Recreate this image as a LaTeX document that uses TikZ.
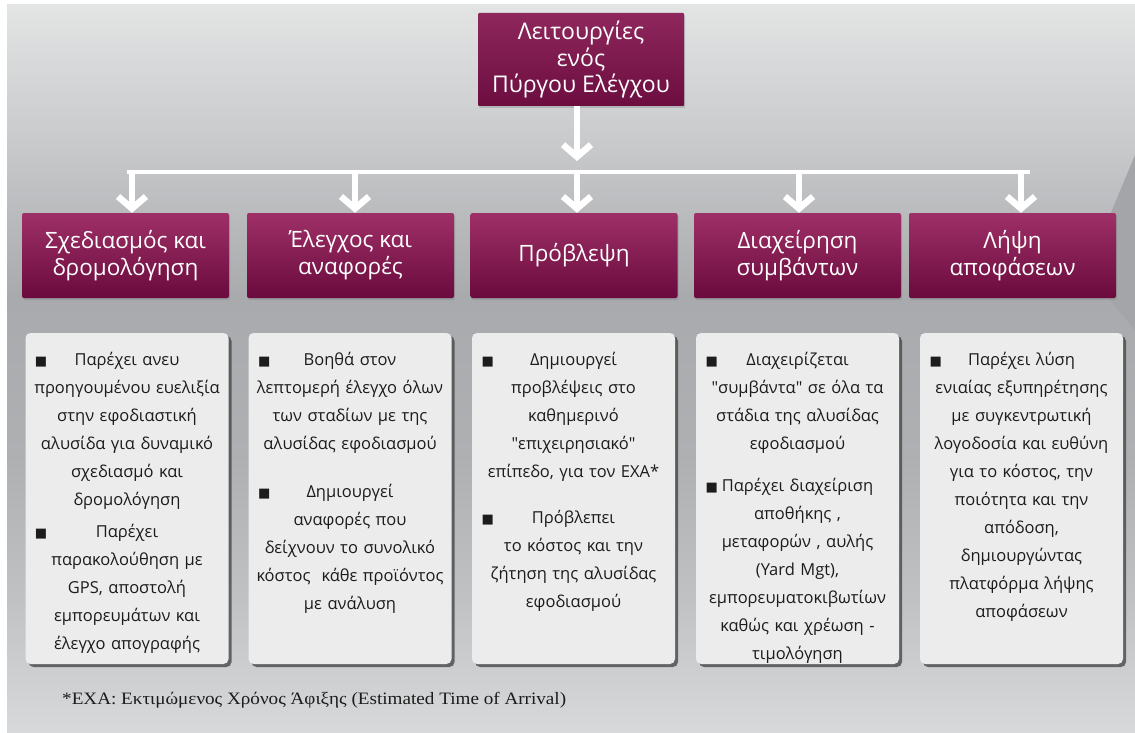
\documentclass[tikz,border=0pt]{standalone}
\usepackage{fontspec}
\setmainfont{Open Sans}
\newfontfamily\symf{DejaVu Sans}
\newfontfamily\serf[FakeStretch=1.1]{Liberation Serif}
\usetikzlibrary{arrows.meta,shadows}
\definecolor{hdtop}{HTML}{9E3067}
\definecolor{hdbot}{HTML}{6A0A3D}
\definecolor{tptop}{HTML}{8E275C}
\definecolor{tpbot}{HTML}{6C0D40}
\definecolor{boxfill}{HTML}{ECECEC}
\definecolor{txt}{HTML}{1C1C1C}
\definecolor{bgA}{HTML}{E3E4E4}
\definecolor{bgB}{HTML}{C6C8CA}
\definecolor{bgC}{HTML}{A8AAAD}
\definecolor{bgD}{HTML}{AEB0B2}
\definecolor{bgE}{HTML}{C0C2C4}
\definecolor{bgF}{HTML}{D8D9DA}
\definecolor{wedge}{HTML}{A3A5A8}
\pgfdeclareverticalshading{bgsh}{100bp}{color(0bp)=(bgF); color(25bp)=(bgF); color(34bp)=(bgE); color(44bp)=(bgD); color(55bp)=(bgC); color(65bp)=(bgB); color(75bp)=(bgA); color(100bp)=(bgA)}
\newcommand\bl[1]{\makebox[184pt]{\rlap{\symf\fontsize{13}{13}\selectfont ■}\hfill#1\hfill}}
\newcommand\qq{\textquotedbl}
\tikzset{
  hdr/.style={minimum width=207pt, minimum height=85pt, rounded corners=2pt,
    top color=hdtop, bottom color=hdbot, text=white, align=center, inner sep=0pt,
    font=\fontsize{22.5}{27}\selectfont,
    drop shadow={shadow xshift=1pt, shadow yshift=-2pt, opacity=0.35}},
  topbox/.style={minimum width=206pt, minimum height=93pt, rounded corners=1pt,
    top color=tptop, bottom color=tpbot, text=white, align=center, inner sep=0pt,
    font=\fontsize{23}{26.5}\selectfont,
    drop shadow={shadow xshift=1pt, shadow yshift=-2pt, opacity=0.35}},
  cbox/.style={minimum width=203pt, minimum height=331pt, rounded corners=5pt,
    fill=boxfill, inner sep=0pt,
    drop shadow={shadow xshift=3pt, shadow yshift=-3pt, opacity=0.75, fill=black!75}},
  ctext/.style={anchor=north, inner sep=0pt, text width=215pt, align=center,
    text=txt, font=\fontsize{16.5}{28}\selectfont},
  arr/.style={draw=white, line width=5.5pt, -{Straight Barb[length=12pt, width=28pt, line width=6.5pt]}},
  barline/.style={draw=white, line width=4.5pt},
  foot/.style={anchor=west, inner sep=0pt, text=txt, font=\serf\fontsize{17.4}{20}\selectfont}
}
\begin{document}
\begin{tikzpicture}[x=1pt, y=-1pt]
\useasboundingbox (0,0) rectangle (1135,733);
\fill[white] (0,0) rectangle (1135,733);
\shade[shading=bgsh] (7,5) rectangle (1135,733);
\fill[wedge] (1135,155) -- (1110,215) -- (1110,300) -- (1135,330) -- cycle;

% top box
\node[topbox] (top) at (581,59.5) {Λειτουργίες\\ενός\\Πύργου Ελέγχου};

% bar coordinates
\coordinate (ttip) at (577,161);
\coordinate (bl) at (127,172);
\coordinate (br) at (1030,172);
\coordinate (d1) at (132,172);
\coordinate (d2) at (355,172);
\coordinate (d3) at (577,172);
\coordinate (d4) at (799,172);
\coordinate (d5) at (1021,172);

% header boxes
\node[hdr] (h1) at (125.5,255.5) {Σχεδιασμός και\\δρομολόγηση};
\node[hdr] (h2) at (350.5,255.5) {Έλεγχος και\\αναφορές};
\node[hdr] (h3) at (574,255.5) {Πρόβλεψη};
\node[hdr] (h4) at (797.5,255.5) {Διαχείρηση\\συμβάντων};
\node[hdr] (h5) at (1012.5,255.5) {Λήψη\\αποφάσεων};

% connectors
\draw[arr] (top.south -| ttip) -- (ttip);
\draw[barline] (bl) -- (br);
\foreach \i in {1,...,5} {
  \draw[arr] (d\i) -- (d\i |- h\i.north);
}

% content boxes
\node[cbox] (c1) at (127,498.5) {};
\node[cbox] (c2) at (350,498.5) {};
\node[cbox] (c3) at (573.5,498.5) {};
\node[cbox] (c4) at (797.5,498.5) {};
\node[cbox] (c5) at (1021.5,498.5) {};

\node[ctext] (t1) at ([yshift=-19pt]c1.north) {\bl{Παρέχει ανευ}\\προηγουμένου ευελιξία\\στην εφοδιαστική\\αλυσίδα για δυναμικό\\σχεδιασμό και\\δρομολόγηση\\[4pt]\bl{Παρέχει}\\παρακολούθηση με\\GPS, αποστολή\\εμπορευμάτων και\\έλεγχο απογραφής};
\node[ctext] (t2) at ([yshift=-19pt]c2.north) {\bl{Βοηθά στον}\\λεπτομερή έλεγχο όλων\\των σταδίων με της\\αλυσίδας εφοδιασμού\\[20pt]\bl{Δημιουργεί}\\αναφορές που\\δείχνουν το συνολικό\\κόστος\ \ κάθε προϊόντος\\με ανάλυση};
\node[ctext] (t3) at ([yshift=-19pt]c3.north) {\bl{Δημιουργεί}\\προβλέψεις στο\\καθημερινό\\\qq επιχειρησιακό\qq\\επίπεδο, για τον ΕΧΑ*\\[18pt]\bl{Πρόβλεπει}\\το κόστος και την\\ζήτηση της αλυσίδας\\εφοδιασμού};
\node[ctext] (t4) at ([yshift=-19pt]c4.north) {\bl{Διαχειρίζεται}\\\qq συμβάντα\qq{} σε όλα τα\\στάδια της αλυσίδας\\εφοδιασμού\\[14pt]\bl{Παρέχει διαχείριση}\\αποθήκης ,\\μεταφορών , αυλής\\(Yard Mgt),\\εμπορευματοκιβωτίων\\καθώς και χρέωση -\\τιμολόγηση};
\node[ctext] (t5) at ([yshift=-19pt]c5.north) {\bl{Παρέχει λύση}\\ενιαίας εξυπηρέτησης\\με συγκεντρωτική\\λογοδοσία και ευθύνη\\για το κόστος, την\\ποιότητα και την\\απόδοση,\\δημιουργώντας\\πλατφόρμα λήψης\\αποφάσεων};

\node[foot] (fn) at (62,700) {*ΕΧΑ: Εκτιμώμενος Χρόνος Άφιξης (Estimated Time of Arrival)};
\end{tikzpicture}
\end{document}
